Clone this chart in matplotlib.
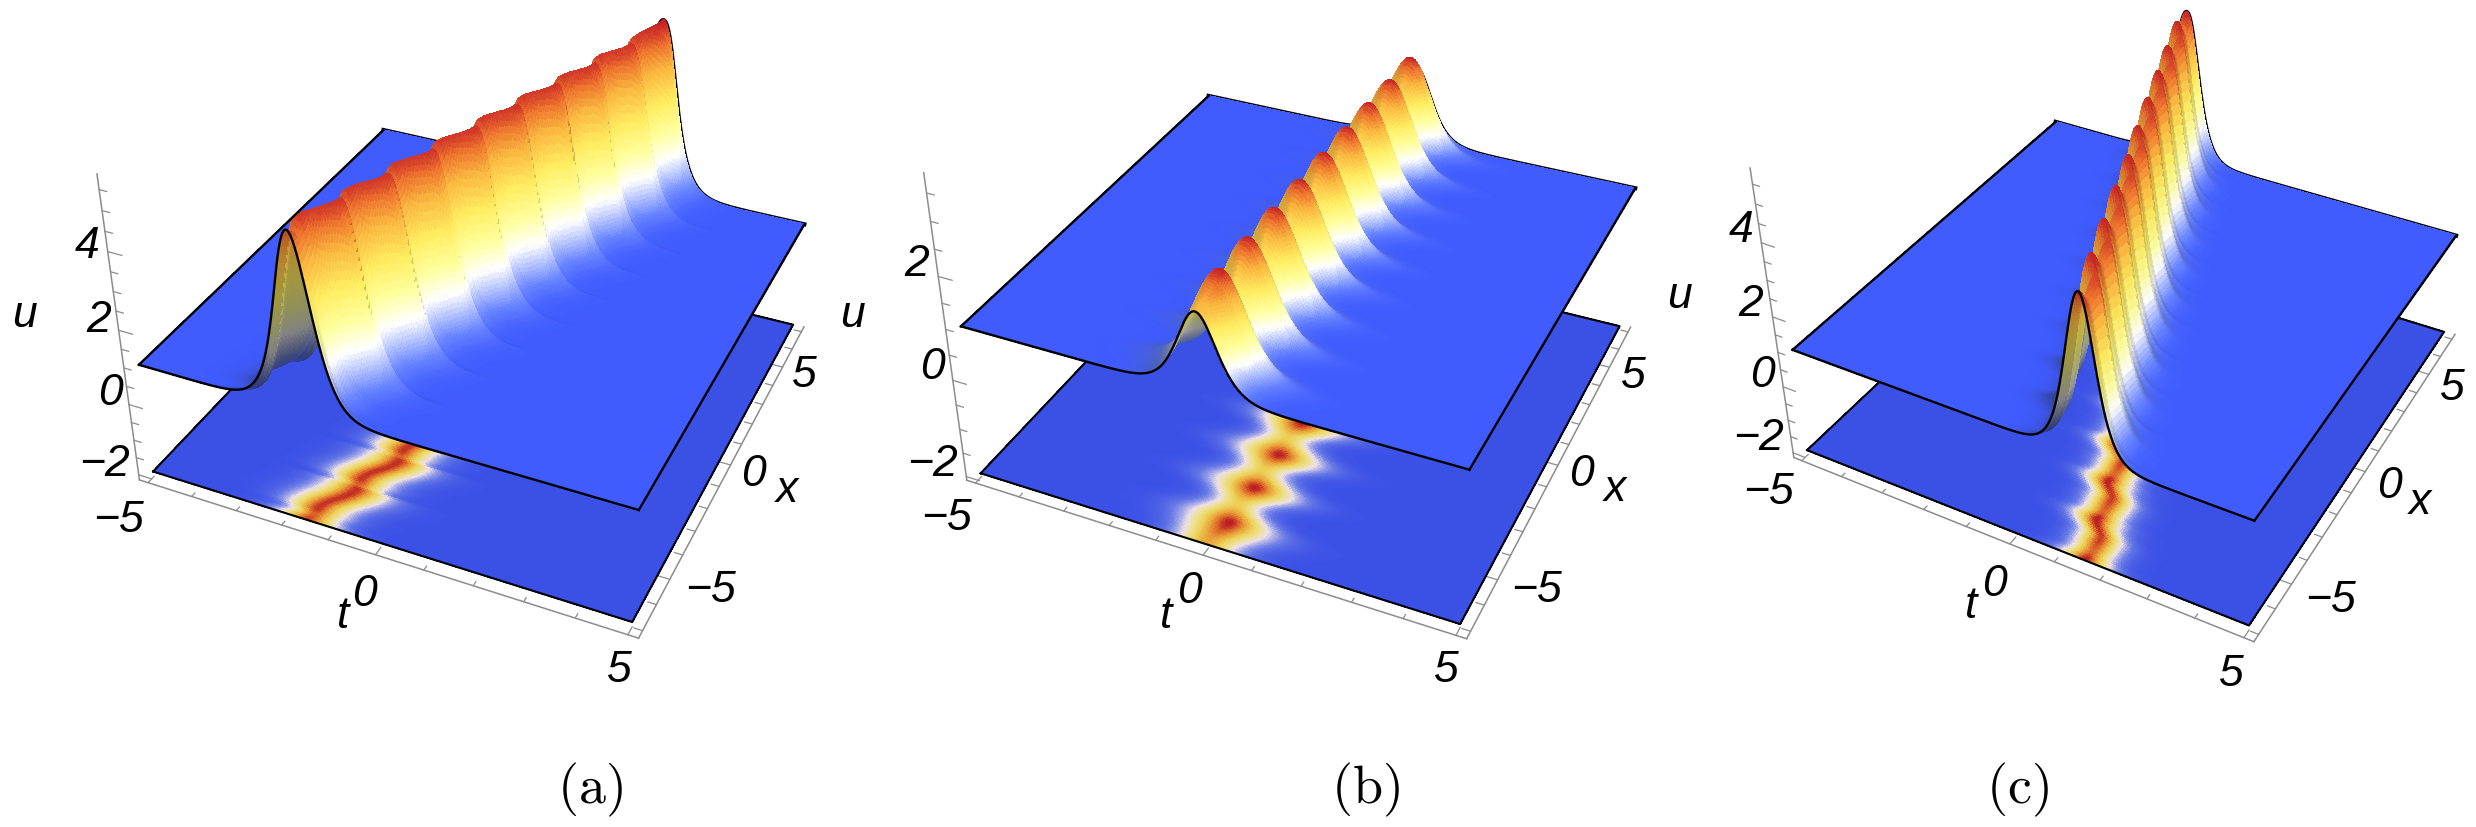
import numpy as np, matplotlib
matplotlib.use('Agg')
import matplotlib.pyplot as plt
from matplotlib.colors import LinearSegmentedColormap

# ridge: knots along x, crest time, crest height, width
a_x = [-7,-6.8,-6.55,-5.4,-5.26,-5.01,-3.86,-3.71,-3.46,-2.32,-2.17,-1.92,-.77,-.62,-.37,.77,.92,1.17,2.32,2.47,2.72,3.86,4.01,4.26,5.41,5.56,5.81,7]
a_t = [-1.55,-1.5,-1.53,-1.12,-1.147,-1.18,-.76,-.794,-.83,-.41,-.441,-.47,-.06,-.088,-.12,.29,.265,.23,.65,.618,.59,1.0,.971,.94,1.35,1.324,1.29,1.62]
a_u = [5.5,5.35,5.6,5.62,5.35,5.6,5.62,5.35,5.6,5.62,5.35,5.6,5.62,5.35,5.6,5.62,5.35,5.6,5.62,5.35,5.6,5.62,5.35,5.6,5.62,5.35,5.6,5.72]
a_w = [.5,.44,.5,.55,.44,.5,.55,.44,.5,.55,.44,.5,.55,.44,.5,.55,.44,.5,.55,.44,.5,.55,.44,.5,.55,.44,.5,.5]

b_x = [-7,-6.06,-5.29,-4.52,-3.75,-2.98,-2.21,-1.44,-.67,.1,.87,1.64,2.41,3.18,3.95,4.72,5.49,6.26,7]
b_t = [-.05,.08,0,.08,0,.08,0,.08,0,.08,0,.08,0,.08,0,.08,0,.08,0]
b_u = [2.49,2.91,2.2,2.91,2.2,2.91,2.2,2.91,2.2,2.91,2.2,2.91,2.2,2.91,2.2,2.91,2.2,2.91,2.53]
b_w = [.52,.66,.46,.66,.46,.66,.46,.66,.46,.66,.46,.66,.46,.66,.46,.66,.46,.66,.52]

c_x = [-7,-6.7,-6.2,-5.52,-5.22,-4.72,-4.04,-3.74,-3.24,-2.56,-2.26,-1.76,-1.08,-.78,-.28,.4,.7,1.2,1.88,2.18,2.68,3.36,3.66,4.16,4.84,5.14,5.64,6.32,6.62,7]
c_t = [1.55,1.56,1.53,1.2,1.21,1.18,.85,.86,.83,.5,.51,.48,.18,.17,.14,-.2,-.19,-.22,-.55,-.54,-.57,-.88,-.87,-.9,-1.22,-1.21,-1.24,-1.55,-1.54,-1.57]
c_u = [5.29,4.95,5.15,5.31,4.95,5.15,5.29,4.95,5.15,5.29,4.95,5.15,5.3,4.95,5.15,5.28,4.95,5.15,5.28,4.95,5.15,5.29,4.95,5.15,5.29,4.95,5.15,5.29,4.95,5.31]
c_w = [.42,.37,.38,.42,.37,.38,.42,.37,.38,.42,.37,.38,.42,.37,.38,.42,.37,.38,.42,.37,.38,.42,.37,.38,.42,.37,.38,.42,.37,.42]

background = 1.0
floor_z = -2.0

t_ticks = [-5,-4,-3,-2,-1,0,1,2,3,4,5]
x_ticks = [-7,-6,-5,-4,-3,-2,-1,0,1,2,3,4,5,6,7]
t_major = [-5,0,5]
x_major = [-5,0,5]
a_zticks = [-2,-1.5,-1,-.5,0,.5,1,1.5,2,2.5,3,3.5,4,4.5,5,5.5]
b_zticks = [-2,-1.5,-1,-.5,0,.5,1,1.5,2,2.5,3,3.5]
c_zticks = a_zticks
a_zmajor = [-2,0,2,4]
b_zmajor = [-2,0,2]
c_zmajor = a_zmajor

W, H = 2476, 828

def fx(px): return px/W
def fy(py): return 1-py/H

cmap = LinearSegmentedColormap.from_list('ridge', [
    (0.00,(0.25,0.36,1.00)), (0.10,(0.42,0.53,1.00)), (0.30,(1,1,1)), (0.45,(1,1,0.62)),
    (0.62,(1,0.93,0.38)), (0.80,(0.98,0.72,0.25)), (0.92,(0.93,0.45,0.18)), (1.00,(0.78,0.13,0.15))])

def knots(xs, kx, kv):
    pos = np.interp(xs, kx, np.arange(len(kx)))
    i = np.minimum(pos.astype(int), len(kx)-2)
    s = (1-np.cos(np.pi*(pos-i)))/2
    kv = np.asarray(kv, float)
    return kv[i]+(kv[i+1]-kv[i])*s

def ridge(ts, xs, kx, kt, ku, kw):
    tc = knots(xs, kx, kt)[:,None]
    uc = knots(xs, kx, ku)[:,None]
    wc = knots(xs, kx, kw)[:,None]
    return background+(uc-background)/np.cosh((ts[None,:]-tc)/wc)**2

def panel(cam, kx, kt, ku, kw, zr, zticks, zmajor, texts):
    el, az, f, ay, azr, s, tx, ty = cam
    S = s*0.185
    ax = fig.add_axes([fx(tx-0.095*s), fy(ty+0.095*s), S/W, S/H], projection='3d', computed_zorder=False)
    ax.view_init(el, az)
    ax.set_proj_type('persp', focal_length=f)
    ax.set_box_aspect((1, ay, azr))
    ax.set_xlim(-5.2,5.2); ax.set_ylim(-7.28,7.28); ax.set_zlim(*zr)
    ax.set_axis_off()

    umax = max(ku)

    # floor map
    ts = np.linspace(-5,5,221); xs = np.linspace(-7,7,221)
    T, X = np.meshgrid(ts, xs)
    U = ridge(ts, xs, kx, kt, ku, kw)
    rgba = cmap((U-background)/(umax-background))
    rgba[...,:3] *= [0.93,0.88,0.90]
    ax.plot_surface(T, X, floor_z+0*U, facecolors=rgba, rstride=1, cstride=1, shade=False,
                    linewidth=0.5, antialiased=False, zorder=1)
    ax.plot([-5,5,5,-5,-5],[-7,-7,7,7,-7],[floor_z]*5, color='k', lw=1.5, zorder=1.5)

    # ridge surface
    ts = np.linspace(-5,5,301); xs = np.linspace(-7,7,261)
    T, X = np.meshgrid(ts, xs)
    U = ridge(ts, xs, kx, kt, ku, kw)
    ut = np.gradient(U, ts, axis=1); ux = np.gradient(U, xs, axis=0)
    rise = np.clip(ut/np.sqrt(1+ut**2), 0, 1)
    n = (U-background)/(umax-background)
    lit = (1-0.55*rise*(1-n)**0.8)*(1-0.15*np.clip(-ux, 0, 1))
    rgba = cmap(n)
    rgba[...,:3] *= lit[...,None]
    ax.plot(ts, xs[-1]+0*ts, U[-1], color='k', lw=3.0, zorder=2)
    ax.plot_surface(T, X, U, facecolors=rgba, rstride=1, cstride=1, shade=False,
                    linewidth=0.5, antialiased=False, zorder=3)
    ax.plot(ts, xs[0]+0*ts, U[0], color='k', lw=1.7, zorder=4)
    ax.plot(ts[0]+0*xs, xs, U[:,0], color='k', lw=1.7, zorder=4)
    ax.plot(ts[-1]+0*xs, xs, U[:,-1], color='k', lw=1.7, zorder=4)

    # box edges and ticks
    grey = '#8c8c8c'
    zlo, zhi = zr
    ax.plot([-5.2,-5.2],[-7.28,-7.28],[zlo,zhi], color=grey, lw=1.1, zorder=0)
    ax.plot([-5.2,5.2],[-7.28,-7.28],[zlo,zlo], color=grey, lw=1.1, zorder=0)
    ax.plot([5.2,5.2],[-7.28,7.28],[zlo,zlo], color=grey, lw=1.1, zorder=0)
    for v in t_ticks:
        n_ = 0.3 if v in t_major else 0.16
        ax.plot([v,v],[-7.28,-7.28+n_],[zlo,zlo], color=grey, lw=0.9, zorder=0)
    for v in x_ticks:
        n_ = 0.3 if v in x_major else 0.16
        ax.plot([5.2,5.2-n_],[v,v],[zlo,zlo], color=grey, lw=0.9, zorder=0)
    for v in zticks:
        n_ = 0.3 if v in zmajor else 0.16
        ax.plot([-5.2,-5.2+n_],[-7.28,-7.28],[v,v], color=grey, lw=0.9, zorder=0)

    for lab, px, py in texts:
        fig.text(fx(px), fy(py), lab, family='Liberation Sans', style='italic', fontsize=32,
                 ha='center', va='center')

plt.rcParams['mathtext.fontset'] = 'cm'
fig = plt.figure(figsize=(W/100, H/100), dpi=100)

a_cam = (32.96,-65.64,0.413,1.002,0.666,4324.2,491.2,260.2)
b_cam = (33.04,-65.71,0.410,0.999,0.669,4327.0,1318.3,259.9)
c_cam = (34.99,-61.32,0.412,1.000,0.669,4217.2,2139.5,260.9)

a_text = [('u',24,316),('4',87,246),('2',99,321),('0',110,394),('\u22122',104,465),('\u22125',119,521),
          ('0',364,595),('t',343,617),('5',619,671),('5',804,376),('0',753,475),('x',787,491),('\u22125',710,591)]
b_text = [('u',852,316),('2',917,265),('0',932,368),('\u22122',932,465),('\u22125',946,519),
          ('0',1189,592),('t',1166,617),('5',1446,671),('5',1633,377),('0',1581,475),('x',1615,490),('\u22125',1537,591)]
c_text = [('u',1680,297),('4',1741,231),('2',1751,304),('0',1762,376),('\u22122',1759,439),('\u22125',1769,493),
          ('0',1994,585),('t',1971,606),('5',2231,675),('5',2452,388),('0',2389,486),('x',2420,503),('\u22125',2330,601)]

panel(a_cam, a_x, a_t, a_u, a_w, (-2.15,5.87), a_zticks, a_zmajor, a_text)
panel(b_cam, b_x, b_t, b_u, b_w, (-2.08,3.85), b_zticks, b_zmajor, b_text)
panel(c_cam, c_x, c_t, c_u, c_w, (-2.15,5.9), c_zticks, c_zmajor, c_text)

for lab, px, py in [('(a)',590,790),('(b)',1365,790),('(c)',2017,790)]:
    fig.text(fx(px), fy(py), r'$\mathrm{%s}$' % lab, fontsize=39, ha='center', va='center')

fig.savefig('out.png', dpi=100)
